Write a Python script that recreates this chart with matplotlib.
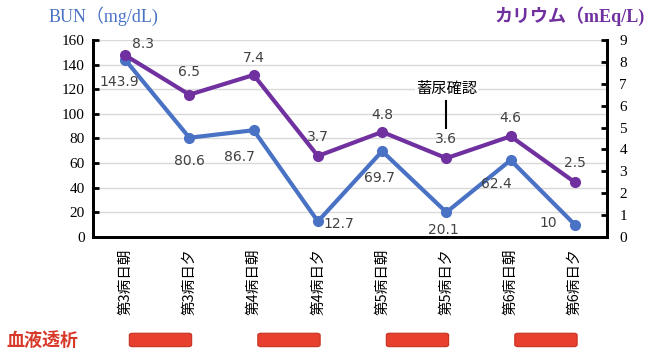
import matplotlib.pyplot as plt
from matplotlib.patches import FancyBboxPatch

# data
days = ["第3病日朝", "第3病日夕", "第4病日朝", "第4病日夕",
        "第5病日朝", "第5病日夕", "第6病日朝", "第6病日夕"]
bun = [143.9, 80.6, 86.7, 12.7, 69.7, 20.1, 62.4, 10]
kalium = [8.3, 6.5, 7.4, 3.7, 4.8, 3.6, 4.6, 2.5]
dialysis_centers = [0.55, 2.55, 4.55, 6.55]

BLUE = '#4a72c4'
PURPLE = '#7030a0'
LABEL = '#404040'
SERIF = ['Liberation Serif', 'Noto Sans CJK JP']
CJK = ['Noto Sans CJK JP', 'DejaVu Sans']

AX_L, AX_B, AX_W, AX_H = 0.1429, 0.347, 0.7895, 0.543
fig = plt.figure(figsize=(6.51, 3.63), dpi=100)
ax = fig.add_axes([AX_L, AX_B, AX_W, AX_H])
ax2 = ax.twinx()

x = list(range(len(days)))
ax.plot(x, bun, color=BLUE, lw=3, marker='o', ms=7, zorder=3)
ax2.plot(x, kalium, color=PURPLE, lw=3, marker='o', ms=7, zorder=3)

ax.set_xlim(-0.5, 7.5)
ax.set_ylim(0, 160)
ax2.set_ylim(0, 9)
ax.set_yticks(range(0, 161, 20))
ax2.set_yticks(range(0, 10))
ax.yaxis.grid(True, color='#d9d9d9', lw=1)
ax.set_axisbelow(True)

for a in (ax, ax2):
    a.spines['top'].set_visible(False)
    for s in ('left', 'right', 'bottom'):
        a.spines[s].set_linewidth(2)
        a.spines[s].set_color('black')
    a.tick_params(axis='y', direction='in', length=4, width=2)
    for lab in a.get_yticklabels():
        lab.set_family(SERIF)
        lab.set_fontsize(11)
ax.yaxis.set_tick_params(pad=6)
ax2.yaxis.set_tick_params(pad=9)

ax.set_xticks(x)
ax.set_xticklabels(days, rotation=90, family=CJK, fontsize=10.5)
ax.tick_params(axis='x', length=0, pad=8)

# data labels
bun_off = [(-4, -16), (0, -17), (-10, -19), (15, -2), (-2, -19), (-2, -13), (-10, -17), (-19, 1)]
k_off = [(13, 8), (0, 16), (0, 12), (0, 14), (0, 12), (0, 14), (0, 13), (0, 14)]
for i in x:
    ax.annotate(f"{bun[i]:g}", (i, bun[i]), xytext=bun_off[i], textcoords='offset points',
                ha='center', va='center', fontsize=10, color=LABEL)
    ax2.annotate(f"{kalium[i]:g}", (i, kalium[i]), xytext=k_off[i], textcoords='offset points',
                 ha='center', va='center', fontsize=10, color=LABEL)

# 蓄尿確認
ax2.text(5, 6.8, "蓄尿確認", ha='center', va='center', family=CJK, fontsize=11,
         bbox=dict(facecolor='white', edgecolor='none', pad=1))
ax2.plot([5, 5], [4.98, 6.2], color='black', lw=1.5)

# axis titles
fig.text(0.075, 0.955, "BUN（mg/dL)", color=BLUE, family=SERIF, fontsize=13,
         ha='left', va='center')
fig.text(0.99, 0.955, "カリウム（mEq/L)", color=PURPLE, family=SERIF, fontsize=13,
         ha='right', va='center', fontweight='bold')

# dialysis bars
fig.text(0.01, 0.063, "血液透析", color='#d83a2a', family=CJK, fontsize=13,
         fontweight='bold', ha='left', va='center')
bar_w = 0.97 / 8 * AX_W
for c in dialysis_centers:
    fx = AX_L + (c + 0.5) / 8 * AX_W
    fig.patches.append(FancyBboxPatch((fx - bar_w / 2, 0.045), bar_w, 0.037,
                                      boxstyle='round,pad=0,rounding_size=0.005',
                                      transform=fig.transFigure,
                                      facecolor='#e8402e', edgecolor='#c53020', lw=0.8))

fig.savefig('out.png', dpi=100)
